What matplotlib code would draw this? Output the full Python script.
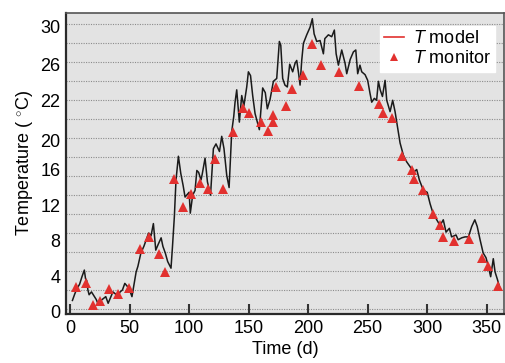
import matplotlib
matplotlib.use("Agg")
import matplotlib.pyplot as plt
from matplotlib.lines import Line2D

plt.rcParams['font.family'] = ['Liberation Sans', 'DejaVu Sans']
plt.rcParams['mathtext.fontset'] = 'custom'
plt.rcParams['mathtext.rm'] = 'Liberation Sans'
plt.rcParams['mathtext.it'] = 'Liberation Sans:italic'

# ---- data ----
model_day = [2, 4, 6, 8, 10, 12, 13, 14, 15, 16, 18, 20, 22, 24, 26, 28, 30, 32, 34, 36,
             38, 40, 42, 44, 46, 48, 50, 52, 54, 55.5, 57, 59.5, 62, 64, 66, 68, 70, 72, 74,
             76.5, 78, 80, 82, 84.8, 86, 87.6, 89, 91, 93, 95, 96.6, 98, 100, 101, 103, 105,
             106.5, 108, 110, 111, 113.4, 115.4, 118, 120.4, 122.6, 125.5, 127.4, 129.3,
             131.6, 133.6, 135.8, 137.5, 138.6, 140, 142.2, 144.2, 146, 148.4, 149.8, 151.6,
             153.4, 155.4, 157.3, 159, 160.5, 161.8, 164, 165.7, 168, 170.8, 173.6, 175.8,
             177, 178.6, 180.5, 182.5, 184.5, 187, 189, 190.4, 192, 193.2, 194.6, 196, 198.8,
             201.6, 203.5, 205, 207.2, 210, 212.8, 214, 217, 219.8, 222, 223.5, 225.4, 228.2,
             231, 232.4, 235.3, 238, 240, 241.6, 243.5, 245, 247.8, 250, 252, 253.4, 255.6,
             257.5, 259, 260.5, 262.4, 264.6, 266, 268.8, 271, 273, 275, 277.2, 280, 282.8,
             285.6, 288.4, 291.2, 293.4, 296.8, 300, 302.4, 304.6, 308, 310.8, 313.5, 315.8,
             318.6, 320.5, 324.2, 326, 329, 331.8, 334.6, 337.4, 340, 342, 344.4, 347, 349.4,
             351.3, 353.3, 355.5, 357, 359, 361]
model_temp = [0.9, 1.6, 2.2, 2.6, 3.4, 4.1, 3.2, 3.0, 2.0, 1.5, 1.8, 1.4, 1.0, 0.4, 0.9, 1.1,
              1.3, 0.6, 1.2, 1.8, 1.6, 1.2, 1.8, 2.0, 2.7, 2.4, 2.0, 1.3, 2.8, 3.9, 4.5, 5.9,
              6.6, 7.3, 8.0, 7.7, 9.0, 6.2, 6.8, 7.5, 6.6, 5.9, 5.0, 4.3, 6.5, 9.7, 13.6, 16.1,
              14.3, 13.0, 11.8, 12.0, 12.3, 10.1, 12.0, 12.5, 14.6, 14.4, 13.6, 14.2, 15.9,
              13.4, 12.0, 16.9, 17.4, 16.6, 18.2, 16.9, 14.1, 12.8, 18.7, 20.3, 21.8, 23.1,
              19.7, 22.5, 21.4, 23.4, 25.0, 24.6, 22.5, 20.6, 19.7, 18.9, 21.2, 23.3, 22.8,
              21.1, 22.1, 24.0, 24.3, 28.2, 27.8, 24.3, 23.6, 23.4, 25.8, 25.0, 25.9, 26.2,
              24.8, 23.6, 26.2, 28.0, 28.9, 29.7, 30.6, 29.0, 28.2, 28.3, 26.9, 28.5, 28.9,
              28.7, 29.4, 26.9, 25.7, 27.3, 25.9, 24.8, 26.3, 27.1, 27.3, 24.8, 25.7, 25.0,
              24.7, 24.1, 22.7, 21.8, 22.2, 22.0, 24.0, 23.1, 22.4, 24.1, 22.0, 20.8, 22.0,
              20.8, 19.2, 17.5, 16.2, 15.5, 15.0, 14.4, 14.7, 13.6, 12.5, 12.3, 11.1, 10.2,
              9.4, 8.8, 9.4, 8.1, 8.5, 7.6, 7.8, 7.3, 7.5, 7.6, 7.6, 8.7, 9.4, 8.7, 7.3, 5.9,
              5.4, 4.5, 3.4, 5.3, 3.9, 3.1, 2.2]

monitor_day = [5.0, 13.4, 19.6, 25.2, 32.8, 40.1, 49.6, 58.8, 66.6, 75.0, 79.8, 87.6, 95.2,
               101.9, 109.2, 115.6, 122.1, 128.8, 136.7, 145.6, 150.6, 160.4, 166.6, 170.2,
               170.7, 173.0, 181.4, 186.7, 195.4, 203.5, 210.8, 225.7, 243.0, 259.5, 262.6,
               270.7, 278.8, 287.0, 288.9, 296.2, 304.6, 310.8, 313.5, 322.3, 335.1, 345.8,
               350.8, 359.2]
monitor_temp = [2.29, 2.78, 0.42, 0.88, 2.07, 1.55, 2.18, 6.32, 7.62, 5.76, 3.93, 13.7, 10.78,
                12.12, 13.31, 12.61, 15.77, 12.65, 18.65, 21.15, 20.68, 19.7, 18.8, 20.5,
                19.7, 23.4, 21.4, 23.15, 24.66, 27.9, 25.7, 25.0, 23.53, 21.6, 20.69, 20.13,
                16.17, 14.7, 13.66, 12.5, 10.0, 8.82, 7.62, 7.19, 7.4, 5.4, 4.53, 2.42]

x_ticks = [0, 50, 100, 150, 200, 250, 300, 350]
grid_levels = [0, 2, 4, 6, 8, 10, 12, 14, 16, 18, 20, 22, 24, 26, 28, 30]
y_tick_pos = [-0.28, 3.40, 7.27, 10.96, 14.65, 17.8, 22.0, 25.8, 29.75]
y_tick_labels = ['0', '4', '8', '12', '16', '20', '22', '26', '30']

red = '#e2312f'

fig = plt.figure(figsize=(5.05, 3.63), dpi=100)
ax = fig.add_axes([66/505, 49/363, 438/505, 301/363])
ax.set_facecolor('#e3e3e3')

for g in grid_levels:
    ax.axhline(g, color='#8c8c8c', lw=0.8, ls=(0, (1, 1.2)), zorder=1)

ax.plot(model_day, model_temp, color='#1a1a1a', lw=1.1, zorder=3)
ax.plot(monitor_day, monitor_temp, ls='none', marker='^', ms=7.5, color=red,
        markeredgewidth=0, zorder=4)

ax.set_xlim(-3.4, 364.5)
ax.set_ylim(-0.53, 31.2)
ax.set_xticks(x_ticks)
ax.set_yticks(y_tick_pos)
ax.set_yticklabels(y_tick_labels)
ax.tick_params(axis='x', direction='in', length=7, width=1.5, color='#333333',
               labelsize=13, pad=4)
ax.tick_params(axis='y', length=0, labelsize=13, pad=4)

for side in ['left', 'bottom']:
    ax.spines[side].set_linewidth(1.6)
    ax.spines[side].set_color('#2a2a2a')
for side in ['top', 'right']:
    ax.spines[side].set_linewidth(1.2)
    ax.spines[side].set_color('#555555')

ax.set_xlabel('Time (d)', fontsize=13, labelpad=3)
ax.set_ylabel('Temperature ( $^{\\circ}$C)', fontsize=13, labelpad=4)

handles = [Line2D([], [], color=red, lw=1.2),
           Line2D([], [], ls='none', marker='^', ms=6, color=red, markeredgewidth=0)]
leg = ax.legend(handles, ['$T$ model', '$T$ monitor'], loc='upper right',
                bbox_to_anchor=(0.98, 0.957), borderaxespad=0, fontsize=13,
                frameon=True, fancybox=False, handlelength=1.1, handletextpad=0.5,
                labelspacing=0.15, borderpad=0.25)
leg.get_frame().set_facecolor('white')
leg.get_frame().set_edgecolor('white')
leg.get_frame().set_alpha(1)

fig.savefig('out.png', dpi=100)
